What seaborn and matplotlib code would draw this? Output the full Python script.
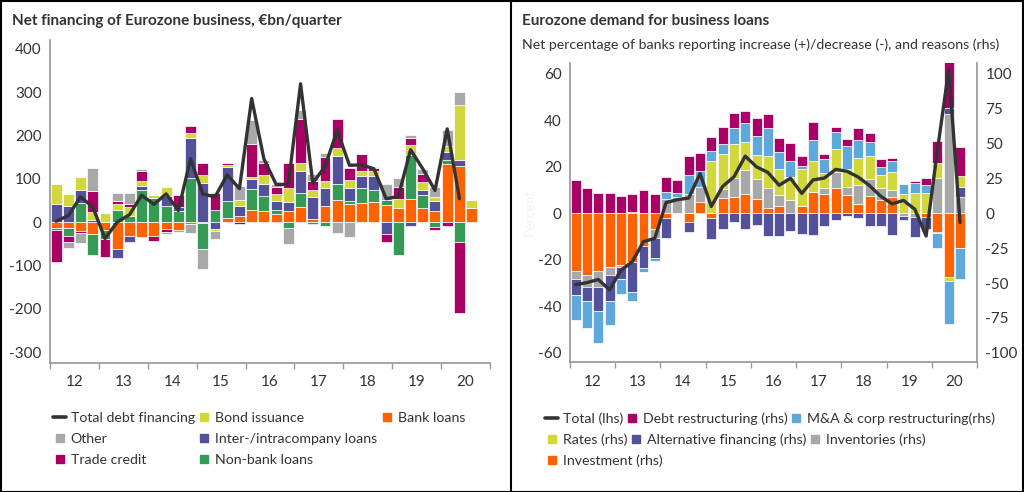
import numpy as np
import pandas as pd
import matplotlib
matplotlib.use('Agg')
import matplotlib.pyplot as plt
from matplotlib.lines import Line2D
from matplotlib.patches import Rectangle
import seaborn as sns

# quarters 2012Q1 - 2020Q3
quarters = pd.period_range('2012Q1', periods=35, freq='Q')

# --- left chart: net financing of Eurozone business, EUR bn/quarter ---
bank_loans = [-14, -13, -21, -27, -19, -63, -33, -35, -32, -15, -18, -4, -2, 0, 10, 15, 29, 25,
              18, 25, 35, 8, 37, 52, 42, 45, 46, 40, 32, 54, 32, 25, 135, 129, 32]
non_bank_loans = [-5, -20, 44, -48, -21, 29, 13, 75, 56, 38, 25, 101, -61, 27, 38, 0, 48, 35,
                  9, -13, 32, -4, -8, 36, 6, 33, 27, 12, -75, 101, 31, -12, 8, -45, 0]
intercompany = [41, 37, 29, 4, 0, -19, -13, 8, 0, 23, 9, 92, 90, -15, 78, 23, 23, 27,
                22, 21, 50, 50, 42, 64, 30, 28, 33, -27, 0, -8, 10, 23, 18, 15, 0]
bond_issuance = [46, 28, 32, 19, 21, 12, 22, 12, 6, 19, 0, 12, 18, -5, 5, 13, 4, 22,
                 15, 32, 19, 17, 16, 20, 20, 11, 11, 0, 22, 22, 19, 11, 15, 126, 20]
trade_credit = [-72, -13, -4, 48, -41, 8, 6, 23, -12, -8, 29, 16, 29, 40, 5, -4, 77, 28,
                17, 58, 102, 19, 55, 66, 27, 39, 8, -19, 28, 17, 19, -6, -9, -164, 0]
other = [0, -14, -24, 53, 0, 19, 25, 5, 0, -5, -5, -21, -46, -18, 0, 33, 54, 6,
         8, -37, 20, 18, 10, -25, -35, 0, 2, 36, 20, 8, 12, 23, 36, 31, 0]
total_debt = [2, 15, 58, 35, -38, 0, 17, 62, 41, 65, 27, 146, 65, 58, 109, 77, 285, 146,
              87, 87, 319, 90, 128, 212, 131, 132, 123, 54, 59, 167, 123, 73, 215, 54, np.nan]

# --- right chart: Eurozone demand for business loans (bank lending survey) ---
investment = [-41.7, -44, -41.7, -38.6, -37.4, -35.2, -23.8, -11.4, -3.6, 0, -6.4, 8.3, -3.6, 11.2,
              11.4, 13.6, 10, 3.6, 4.8, 0.5, 5.5, 15, 13.6, 17.9, 13.1, 6.4, 12.4, 9.5, 11.9, 0,
              0, -2.9, -13.8, -45.7, -25]
inventories = [-5.5, -9, -11.2, -5.5, -1.2, 0.7, 0.5, -6.4, 10, 11.9, 13.6, 10.7, 0, 6, 13.6,
               17.4, 14.3, 14.3, 8.3, 8.6, 0, 0, 4.3, 11.9, 6, 13.8, 11.9, 8.3, 4.8, -1.7, -2.9,
               0, 25.5, 71, 11.9]
alt_financing = [-11.2, -10, -16.9, -18.6, -8.3, -21.2, -15.5, -14.3, -14.3, 0, -7.4, 0, -15, -11.4,
                 -6, -11.4, -8.3, -16.2, -16.2, -12.6, -14.8, -15.5, -9, -4.8, -1.7, -3.6, -9, -9,
                 -15.5, -3.1, -14.3, -8.3, -0.7, 4, 7.1]
rates = [0, 0, 0, 0, 0, 0, 0, 0, 0, 0, 0, 0, 37.4, 25, 24.5, 20.2, 17.4, 23.3, 18.6, 16.7, 26,
         22.4, 10.7, 16.2, 12.6, 19.5, 16.7, 9.5, 13.1, 13.8, 14.3, 14.3, 10.2, -3.1, 7.6]
ma_restructuring = [-18.3, -19, -23.1, -17.6, -11, -6.2, -2.9, -1.9, 5, 2.4, 13.8, 11.2, 7.1, 7.1,
                    11.7, 13.6, 13.8, 19.5, 11.9, 11.7, 2.6, 15, 10, 11.9, 16.4, 12.6, 10.2, 5.5,
                    7.6, 7.1, 7.1, 6, -10.5, -30.2, -22.1]
debt_restructuring = [23.8, 17.9, 14.8, 14.3, 12.6, 13.1, 16, 13.6, 11.2, 9.8, 13.6, 13.1, 9.8, 12.4,
                      10.7, 8.3, 12.4, 10, 10.5, 12.6, 7.1, 12.6, 3.6, 3.6, 4.8, 8.8, 6.4, 5.7, 2.4,
                      0, 1.7, 4.8, 16, 33, 21]
total_demand = [-30.7, -29.8, -28.5, -32.9, -24.5, -20.9, -12.2, -10.8, 4.6, 5.8, 6.5, 17, 2.9, 11.5,
                15.6, 24.5, 19.9, 17.5, 12, 15, 8.5, 14.3, 15.1, 18.8, 18, 15.5, 11.8, 7.2, 4, 5.5,
                1.7, -9.8, 27, 61.8, -4]

years = list(range(12, 21))
year_labels = [str(y) for y in years]

# colours
c_yellow = '#d2d83c'
c_orange = '#ff6200'
c_gray = '#a8a8a8'
c_purple = '#525199'
c_magenta = '#aa0066'
c_green = '#349a55'
c_lblue = '#5fa8dc'
c_line = '#333333'
c_text = '#333333'
c_axis = '#999999'

sns.set_theme(style='white')
plt.rcParams['font.family'] = ['Lato', 'DejaVu Sans']
plt.rcParams['text.color'] = c_text
plt.rcParams['xtick.color'] = c_text
plt.rcParams['ytick.color'] = c_text
plt.rcParams['axes.unicode_minus'] = False

x = (quarters.year - 2000) + (quarters.quarter - 0.5) / 4


def stacked(ax, series, colors, width):
    pos = np.zeros(len(x))
    neg = np.zeros(len(x))
    for vals, col in zip(series, colors):
        vals = np.asarray(vals, dtype=float)
        bottom = np.where(vals >= 0, pos, neg)
        ax.bar(x, vals, bottom=bottom, width=width, color=col, edgecolor='white', linewidth=0.5)
        pos += np.clip(vals, 0, None)
        neg += np.clip(vals, None, 0)


def style_xaxis(ax):
    ax.set_xlim(12, 21)
    ax.set_xticks(range(12, 22))
    ax.set_xticklabels([])
    ax.set_xticks([y + 0.5 for y in years], minor=True)
    ax.set_xticklabels(year_labels, minor=True, fontsize=11)
    ax.tick_params(axis='x', which='major', direction='out', length=4, width=1, color=c_axis, bottom=True)
    ax.tick_params(axis='x', which='minor', length=0, pad=9)
    ax.spines['bottom'].set_color(c_axis)
    ax.set_xlabel('')


fig = plt.figure(figsize=(10.24, 4.92), dpi=100)
W, H = 1024, 492


def fig_axes(l, t, r, b):
    return fig.add_axes([l / W, 1 - b / H, (r - l) / W, (b - t) / H])


def sq(c):
    return Line2D([], [], marker='s', ls='', color=c, markersize=6)


def total_handle():
    return Line2D([], [], color=c_line, lw=2.6)


leg_kw = dict(loc='upper left', frameon=False, fontsize=10.2, handlelength=0.95,
              handletextpad=0.3, borderpad=0, borderaxespad=0)

# ---------- left panel ----------
ax1 = fig_axes(50, 40, 490, 363)
stacked(ax1, [bank_loans, non_bank_loans, intercompany, bond_issuance, trade_credit, other],
        [c_orange, c_green, c_purple, c_yellow, c_magenta, c_gray], 0.225)
sns.lineplot(x=x, y=total_debt, ax=ax1, color=c_line, linewidth=2.4)
ax1.set_ylim(-325, 420)
ax1.set_yticks(range(-300, 401, 100))
ax1.tick_params(axis='y', length=0, labelsize=11, pad=6)
for s in ['top', 'right']:
    ax1.spines[s].set_visible(False)
ax1.spines['left'].set_color(c_axis)
style_xaxis(ax1)
ax1.set_ylabel('')

fig.text(12 / W, 1 - 21 / H, 'Net financing of Eurozone business, €bn/quarter',
         fontsize=11, fontweight='bold', va='center', ha='left')

blank = Line2D([], [], ls='', marker='')
h1 = [total_handle(), sq(c_gray), sq(c_magenta),
      sq(c_yellow), sq(c_purple), sq(c_green),
      sq(c_orange), blank, blank]
l1 = ['Total debt financing', 'Other', 'Trade credit',
      'Bond issuance', 'Inter-/intracompany loans', 'Non-bank loans',
      'Bank loans', '', '']
fig.legend(h1, l1, bbox_to_anchor=(53 / W, 1 - 412 / H), ncol=3,
           columnspacing=0.2, labelspacing=0.62, **leg_kw)

# ---------- right panel ----------
ax2 = fig_axes(570, 63, 977, 362)
stacked(ax2, [investment, inventories, alt_financing, rates, ma_restructuring, debt_restructuring],
        [c_orange, c_gray, c_purple, c_yellow, c_lblue, c_magenta], 0.22)
ax2.set_ylim(-106.5, 107.5)
ax2.set_yticks(range(-100, 101, 25))
ax2.spines['top'].set_visible(False)
ax2.spines['left'].set_color(c_axis)
ax2.spines['right'].set_color(c_axis)
style_xaxis(ax2)

ax3 = ax2.twinx()
sns.lineplot(x=x, y=total_demand, ax=ax3, color=c_line, linewidth=2.4)
ax3.set_ylim(-106.5 * 0.6, 107.5 * 0.6)
ax3.set_yticks(range(-60, 61, 20))
ax3.yaxis.tick_left()
ax3.yaxis.set_label_position('left')
ax3.tick_params(axis='y', length=0, labelsize=11, pad=6)
ax3.set_ylabel('Percent', color='#f3f3f3', fontsize=10, labelpad=2)
ax3.set_xlabel('')
for s in ['top', 'right', 'left', 'bottom']:
    ax3.spines[s].set_visible(False)
ax3.set_xlim(12, 21)

# rhs ticks for the bars (twinx moved them, so put them back on the right)
ax2.yaxis.tick_right()
ax2.tick_params(axis='y', length=0, labelsize=11, pad=6)
ax2.tick_params(axis='y', left=False, labelleft=False)

fig.text(522 / W, 1 - 21 / H, 'Eurozone demand for business loans',
         fontsize=11, fontweight='bold', va='center', ha='left')
fig.text(522 / W, 1 - 45 / H,
         'Net percentage of banks reporting increase (+)/decrease (-), and reasons (rhs)',
         fontsize=10.2, va='center', ha='left')

# right legend flows row by row
rows2 = [
    ([total_handle(), sq(c_magenta), sq(c_lblue)],
     ['Total (lhs)', 'Debt restructuring (rhs)', 'M&A & corp restructuring(rhs)']),
    ([sq(c_yellow), sq(c_purple), sq(c_gray)],
     ['Rates (rhs)', 'Alternative financing (rhs)', 'Inventories (rhs)']),
    ([sq(c_orange)], ['Investment (rhs)']),
]
for k, (hh, ll) in enumerate(rows2):
    fig.legend(hh, ll, bbox_to_anchor=(545 / W, 1 - (412 + 21 * k) / H), ncol=len(hh),
               columnspacing=0.15, **leg_kw)

# panel frames
fig.patches.append(Rectangle((0.5 / W, 0.5 / H), 1 - 1.5 / W, 1 - 1.5 / H, transform=fig.transFigure,
                             fill=False, edgecolor='black', linewidth=1.5))
fig.add_artist(Line2D([511 / W, 511 / W], [0, 1], transform=fig.transFigure, color='black', linewidth=1.5))

fig.savefig('out.png', dpi=100)
